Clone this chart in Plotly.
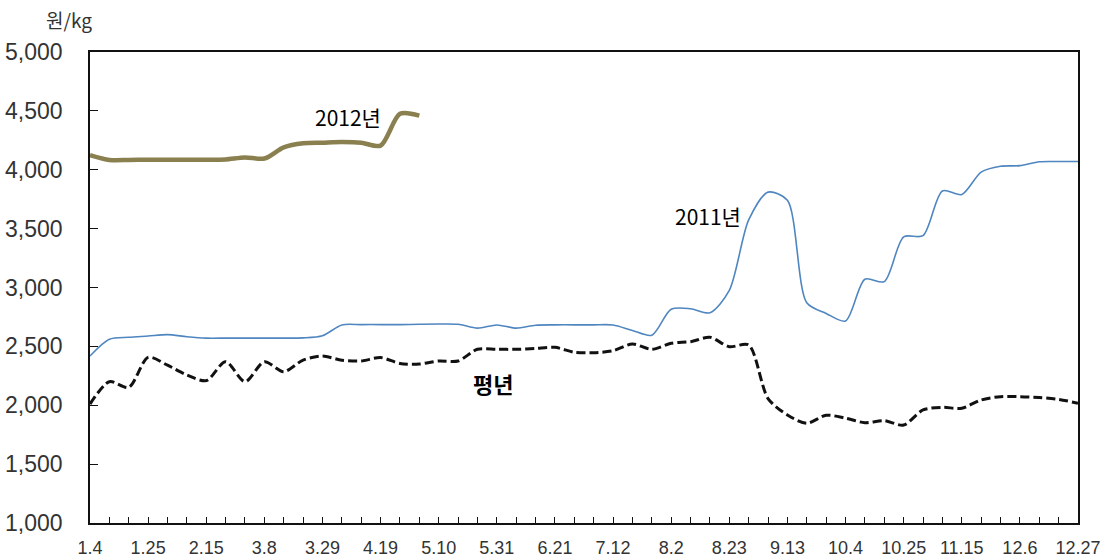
import plotly.graph_objects as go

weeks = ["1.4", "1.11", "1.18", "1.25", "2.1", "2.8", "2.15", "2.22", "3.1", "3.8",
         "3.15", "3.22", "3.29", "4.5", "4.12", "4.19", "4.26", "5.3", "5.10", "5.17",
         "5.24", "5.31", "6.7", "6.14", "6.21", "6.28", "7.5", "7.12", "7.19", "7.26",
         "8.2", "8.9", "8.16", "8.23", "8.30", "9.6", "9.13", "9.20", "9.27", "10.4",
         "10.11", "10.18", "10.25", "11.1", "11.8", "11.15", "11.22", "11.29", "12.6",
         "12.13", "12.20", "12.27"]

tick_labels = ["1.4", "1.25", "2.15", "3.8", "3.29", "4.19", "5.10", "5.31", "6.21",
               "7.12", "8.2", "8.23", "9.13", "10.4", "10.25", "11.15", "12.6", "12.27"]

y2012 = [4125, 4083, 4083, 4085, 4085, 4085, 4085, 4088, 4105, 4095, 4190, 4225,
         4230, 4235, 4230, 4205, 4475, 4460]

y2011 = [2418, 2560, 2577, 2588, 2600, 2582, 2570, 2570, 2570, 2570, 2570, 2572,
         2590, 2682, 2685, 2685, 2685, 2688, 2690, 2688, 2655, 2682, 2655, 2680,
         2683, 2683, 2683, 2682, 2635, 2595, 2815, 2820, 2786, 2975, 3575, 3810,
         3740, 2870, 2780, 2715, 3070, 3050, 3430, 3440, 3820, 3790, 3980, 4030,
         4035, 4068, 4070, 4070]

y_normal = [2010, 2200, 2152, 2407, 2340, 2257, 2209, 2370, 2200, 2370, 2285, 2384,
            2418, 2382, 2376, 2405, 2355, 2350, 2376, 2376, 2475, 2475, 2475, 2483,
            2492, 2450, 2446, 2463, 2520, 2475, 2526, 2540, 2577, 2497, 2512, 2057,
            1917, 1847, 1915, 1890, 1852, 1869, 1832, 1960, 1982, 1975, 2045, 2073,
            2073, 2065, 2050, 2017]

fig = go.Figure()
fig.add_trace(go.Scatter(x=weeks, y=y_normal, mode="lines",
                         line=dict(color="#111111", width=3, dash="9px,4px",
                                   shape="spline", smoothing=0.8),
                         name="평년"))
fig.add_trace(go.Scatter(x=weeks, y=y2011, mode="lines",
                         line=dict(color="#4f86c0", width=1.6, shape="spline", smoothing=0.8),
                         name="2011년"))
fig.add_trace(go.Scatter(x=weeks[:len(y2012)], y=y2012, mode="lines",
                         line=dict(color="#8a7f4f", width=4.5, shape="spline", smoothing=0.8),
                         name="2012년"))

fig.update_layout(
    width=1111, height=558,
    margin=dict(l=90, r=33, t=52, b=35),
    paper_bgcolor="white", plot_bgcolor="white",
    showlegend=False,
    xaxis=dict(type="category", categoryorder="array", categoryarray=weeks,
               range=[0, len(weeks) - 1], automargin=False,
               tickmode="array", tickvals=weeks,
               ticktext=[w if w in tick_labels else "" for w in weeks],
               ticks="inside", ticklen=6, tickcolor="#111", tickwidth=1.2,
               showline=True, linecolor="#111", linewidth=1.5, mirror=True,
               showgrid=False, zeroline=False, tickangle=0, ticklabelstandoff=8,
               tickfont=dict(family="Liberation Sans", size=18, color="#333333")),
    yaxis=dict(range=[1000, 5000], dtick=500, tickformat=",", automargin=False,
               ticks="inside", ticklen=8, tickcolor="#111", tickwidth=1.2,
               showline=True, linecolor="#111", linewidth=1.5, mirror=True,
               showgrid=False, zeroline=False, ticklabelstandoff=21,
               tickfont=dict(family="Liberation Sans", size=23, color="#333333")),
    annotations=[
        dict(text="원/kg", xref="paper", yref="paper", x=-0.021, y=1.07,
             xanchor="center", yanchor="middle",
             showarrow=False, font=dict(family="Noto Sans CJK KR", size=19, color="#333")),
        dict(text="2012년", x=13.3, y=4450, showarrow=False,
             xanchor="center", yanchor="middle",
             font=dict(family="Noto Sans CJK KR", size=21, color="#000")),
        dict(text="2011년", x=31.9, y=3605, showarrow=False,
             xanchor="center", yanchor="middle",
             font=dict(family="Noto Sans CJK KR", size=21, color="#000")),
        dict(text="<b>평년</b>", x=20.8, y=2190, showarrow=False,
             xanchor="center", yanchor="middle",
             font=dict(family="Noto Sans CJK KR", size=22, color="#000")),
    ],
)

fig.write_html("out.html", config={"displayModeBar": False},
               post_script="document.body.style.margin='0';")
